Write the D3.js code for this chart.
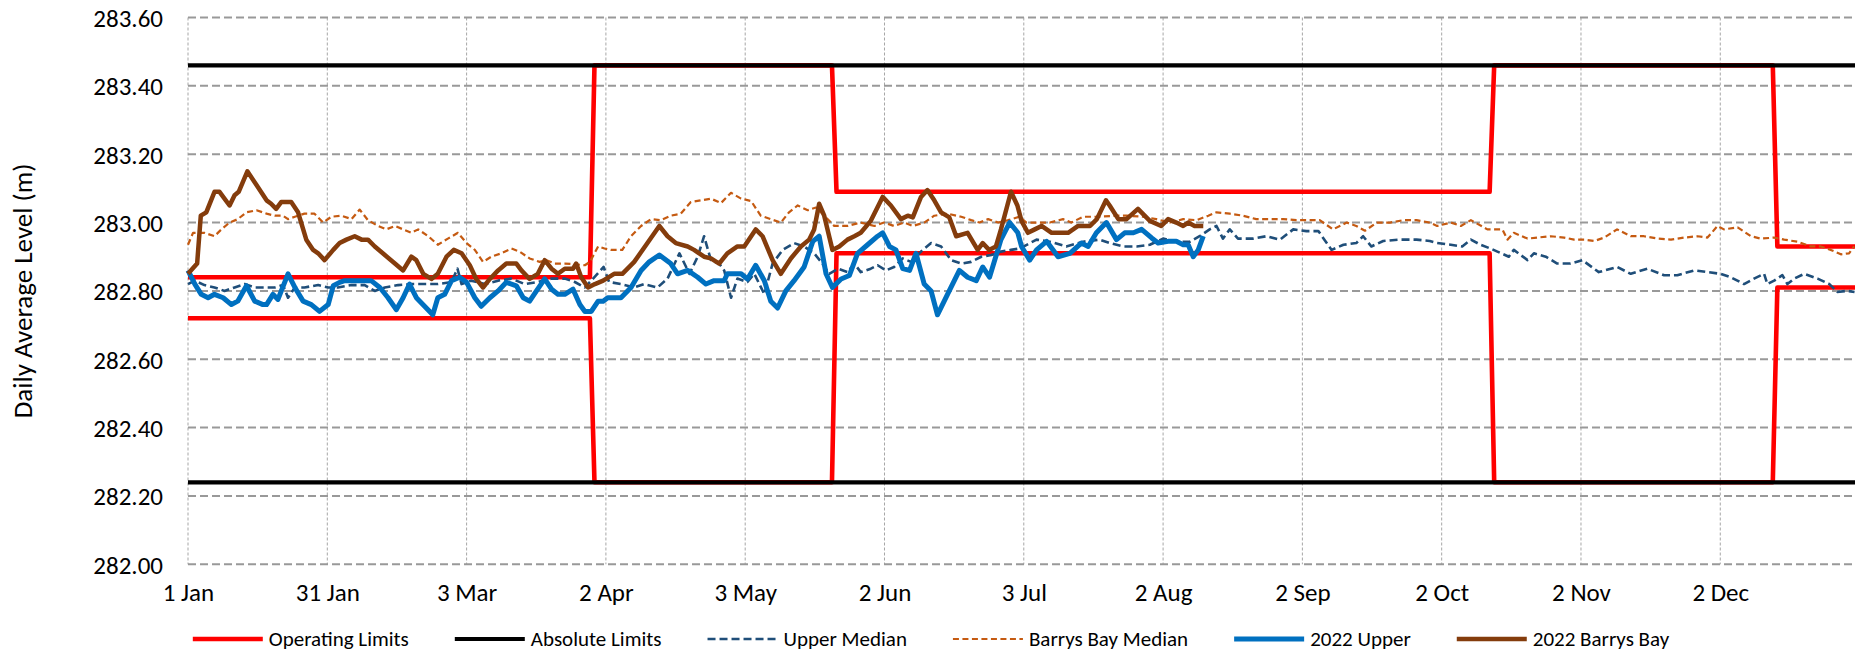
<!DOCTYPE html>
<html>
<head>
<meta charset="utf-8">
<script src="https://cdn.jsdelivr.net/npm/d3@7"></script>
<style>
  html, body { margin: 0; padding: 0; background: #fff; }
  svg { display: block; font-family: Calibri, Carlito, Lato, sans-serif; }
</style>
</head>
<body>
<svg id="chart" width="1862" height="653"></svg>
<script>
// x is day of year (0 = 1 Jan), y is level in metres
const xTickDays = [0, 30.5, 61, 91.5, 122, 152.5, 183, 213.5, 244, 274.5, 305, 335.5];
const xTickLabels = ["1 Jan", "31 Jan", "3 Mar", "2 Apr", "3 May", "2 Jun", "3 Jul", "2 Aug", "2 Sep", "2 Oct", "2 Nov", "2 Dec"];
const yTicks = [282.0, 282.2, 282.4, 282.6, 282.8, 283.0, 283.2, 283.4, 283.6];

const operatingUpper = [[0, 282.84], [88, 282.84], [89, 283.46], [141, 283.46], [142, 283.09], [285, 283.09], [286, 283.46], [347, 283.46], [348, 282.93], [365, 282.93]];
const operatingLower = [[0, 282.72], [88, 282.72], [89, 282.24], [141, 282.24], [142, 282.91], [285, 282.91], [286, 282.24], [347, 282.24], [348, 282.81], [365, 282.81]];
const absoluteUpper = [[0, 283.46], [365, 283.46]];
const absoluteLower = [[0, 282.24], [365, 282.24]];

const upperMedian = [
  [0, 282.82], [1.5, 282.83], [3.6, 282.817], [5.8, 282.81], [8, 282.80], [10.2, 282.81], [12.4, 282.82], [14.6, 282.81],
  [16.8, 282.81], [19, 282.81], [20.8, 282.817], [21.9, 282.78], [23.4, 282.81], [25.5, 282.81], [28.5, 282.817], [30.7, 282.81],
  [32.8, 282.81], [35.8, 282.817], [38.7, 282.817], [40.9, 282.80], [43.1, 282.81], [46, 282.817], [48.9, 282.82], [51.8, 282.82],
  [54.7, 282.82], [57.7, 282.826], [59, 282.865], [59.9, 282.82], [62, 282.83], [65, 282.82], [67.9, 282.83], [70.8, 282.836],
  [73.7, 282.82], [76.6, 282.826], [79.6, 282.836], [82.5, 282.836], [84.7, 282.826], [86.9, 282.81], [88.7, 282.836], [91, 282.87],
  [92.2, 282.826], [94.8, 282.82], [97.7, 282.81], [99.9, 282.82], [102.8, 282.81], [105, 282.836], [107.6, 282.91], [109.8, 282.85],
  [111.6, 282.90], [113, 282.96], [114.5, 282.89], [116.3, 282.88], [117.4, 282.86], [118.9, 282.78], [120.3, 282.836], [122.5, 282.826],
  [124, 282.85], [126.2, 282.79], [128, 282.88], [130.2, 282.92], [132.7, 282.94], [134.9, 282.93], [137.1, 282.91], [138.6, 282.885],
  [140.4, 282.85], [142.3, 282.865], [144.4, 282.855], [145.9, 282.88], [147.3, 282.855], [149.5, 282.865], [151, 282.875], [152.8, 282.86],
  [154.6, 282.87], [156.5, 282.895], [158.3, 282.885], [160.5, 282.915], [162.7, 282.94], [164.9, 282.93], [167.1, 282.89], [169.3, 282.88],
  [171.5, 282.885], [173.7, 282.90], [175.9, 282.905], [178, 282.915], [180.2, 282.92], [182.1, 282.924], [185.8, 282.95], [188.7, 282.944],
  [192.3, 282.93], [196, 282.944], [199.6, 282.95], [201.8, 282.94], [204.8, 282.93], [207.7, 282.93], [210.6, 282.935], [213.5, 282.953],
  [216.4, 282.944], [219.4, 282.944], [221.5, 282.96], [223.7, 282.98], [225.2, 282.99], [226.6, 282.953], [228.1, 282.98], [229.9, 282.953],
  [233.2, 282.953], [236.1, 282.96], [239.1, 282.95], [242, 282.98], [244.9, 282.975], [247.5, 282.975], [250.4, 282.92], [253, 282.935],
  [255.8, 282.94], [257.3, 282.96], [259.1, 282.93], [261.7, 282.946], [265.3, 282.95], [269, 282.95], [271.9, 282.946], [273.5, 282.94],
  [276.5, 282.935], [279, 282.93], [280.9, 282.95], [283, 282.935], [285.2, 282.924], [286.7, 282.915], [289.2, 282.90], [290.3, 282.92],
  [293.3, 282.89], [294.7, 282.91], [297.3, 282.90], [299.8, 282.88], [302.7, 282.88], [305.3, 282.89], [308.9, 282.855], [312.9, 282.87],
  [315.9, 282.85], [319.5, 282.865], [323.2, 282.846], [326.1, 282.846], [329.8, 282.86], [332.7, 282.855], [335.6, 282.85], [337.8, 282.84],
  [340.7, 282.82], [342.9, 282.836], [345.1, 282.85], [345.8, 282.82], [347.3, 282.83], [349.1, 282.846], [350.2, 282.82], [351.7, 282.836],
  [353.9, 282.85], [356.8, 282.836], [359.4, 282.82], [361.1, 282.797], [363.3, 282.80], [364.9, 282.797]
];

const barrysMedian = [
  [0, 282.935], [1.1, 282.97], [2.6, 282.97], [3.6, 282.97], [5.8, 282.96], [7.3, 282.98], [9.1, 283.00], [10.9, 283.01],
  [12.8, 283.03], [15, 283.036], [17.2, 283.026], [19, 283.02], [20.8, 283.02], [21.9, 283.01], [23.4, 283.017], [25.5, 283.026],
  [27.7, 283.026], [29.6, 283.00], [31.4, 283.017], [33.6, 283.02], [35.8, 283.01], [37.6, 283.038], [39.4, 283.007], [41.6, 282.99],
  [43.4, 282.98], [45.3, 282.99], [47.1, 282.98], [48.9, 282.97], [50.4, 282.98], [52.6, 282.96], [54.7, 282.935], [56.9, 282.953],
  [59.1, 282.97], [61, 282.94], [62.8, 282.92], [64.6, 282.885], [66.4, 282.90], [68.6, 282.91], [70.8, 282.924], [72.6, 282.915],
  [74.8, 282.895], [77, 282.885], [78.5, 282.89], [80.3, 282.88], [82.5, 282.88], [84.7, 282.878], [86.9, 282.875], [88, 282.885],
  [89.8, 282.93], [91.2, 282.924], [92.6, 282.92], [95.1, 282.92], [97, 282.96], [99.2, 282.99], [101.4, 283.01], [103.5, 283.007],
  [105.7, 283.02], [107.9, 283.026], [110.1, 283.06], [112.3, 283.065], [114.5, 283.07], [116.7, 283.057], [118.9, 283.087], [121.1, 283.07],
  [123.3, 283.063], [125.4, 283.02], [127.6, 283.01], [129.8, 283.00], [131.6, 283.03], [133.5, 283.05], [135.7, 283.036], [137.5, 283.044],
  [139.3, 283.02], [141.5, 282.99], [144.4, 282.99], [147.3, 283.00], [150.3, 282.99], [152.4, 283.00], [154.6, 282.99], [156.8, 283.00],
  [158.7, 282.99], [161.2, 283.00], [163.4, 283.02], [166.3, 283.026], [169.3, 283.017], [171.5, 283.007], [173.3, 283.00], [175.2, 283.01],
  [177.4, 283.00], [179.6, 283.007], [182, 283.017], [183.6, 283.00], [185.8, 283.00], [188.7, 283.00], [191.6, 283.01], [193.4, 283.00],
  [196, 283.017], [199, 283.017], [203.3, 283.02], [205.6, 283.02], [209.1, 283.017], [212, 283.01], [215, 283.00], [217.9, 283.01],
  [220.8, 283.007], [223.4, 283.02], [225.2, 283.03], [228.1, 283.026], [231, 283.02], [233.9, 283.01], [236.9, 283.01], [239.8, 283.01],
  [242.7, 283.007], [245.6, 283.007], [247.8, 283.007], [250.7, 282.98], [253.7, 283.00], [255.8, 282.99], [257.7, 282.976], [260.3, 283.00],
  [263.2, 283.00], [266.1, 283.007], [269, 283.007], [271.9, 283.00], [273.5, 282.99], [276.5, 283.00], [278.7, 282.99], [280.9, 283.007],
  [284.5, 282.98], [287.8, 282.98], [288.9, 282.95], [290.3, 282.97], [293.3, 282.953], [295.4, 282.956], [298.4, 282.96], [301.3, 282.956],
  [303.5, 282.95], [305.7, 282.95], [307.9, 282.946], [310.1, 282.956], [312.9, 282.98], [315.9, 282.96], [318.8, 282.96], [321.8, 282.953],
  [324.7, 282.95], [327.6, 282.956], [330.5, 282.96], [332.7, 282.956], [334.9, 282.99], [336.3, 282.98], [339.3, 282.986], [342.2, 282.96],
  [344.4, 282.953], [347.3, 282.956], [349.5, 282.95], [352.4, 282.944], [355.3, 282.93], [357.5, 282.93], [359.7, 282.92], [361.9, 282.907],
  [363.7, 282.91], [364.8, 282.93]
];

const upper2022 = [
  [0, 282.86], [1.5, 282.82], [2.9, 282.79], [4.4, 282.78], [5.8, 282.79], [7.7, 282.78], [9.5, 282.76], [10.9, 282.77],
  [12.8, 282.815], [14.6, 282.77], [16.4, 282.76], [17.2, 282.76], [18.6, 282.79], [19.7, 282.775], [21.9, 282.85], [23.4, 282.81],
  [25.2, 282.77], [27, 282.76], [28.8, 282.74], [30.7, 282.76], [31.8, 282.815], [33.2, 282.825], [34.3, 282.83], [38.7, 282.83],
  [40.1, 282.83], [42, 282.81], [43.8, 282.78], [45.6, 282.745], [47.1, 282.78], [48.5, 282.82], [50, 282.78], [51.8, 282.755],
  [53.6, 282.73], [54.7, 282.78], [56.2, 282.79], [57.7, 282.83], [59.5, 282.84], [61, 282.825], [62.8, 282.78], [64.2, 282.755],
  [66.1, 282.78], [67.9, 282.80], [69.7, 282.825], [71.9, 282.815], [73.4, 282.78], [74.8, 282.77], [76.3, 282.80], [78.1, 282.835],
  [79.6, 282.805], [81, 282.79], [82.5, 282.79], [84.3, 282.805], [85.8, 282.76], [86.9, 282.74], [88.3, 282.74], [89.8, 282.77],
  [90.9, 282.77], [91.9, 282.78], [94.8, 282.78], [97, 282.81], [99.2, 282.86], [101, 282.885], [103.2, 282.905], [105.7, 282.88],
  [107.2, 282.85], [109.4, 282.86], [111.6, 282.84], [113.4, 282.82], [115.2, 282.83], [117.4, 282.83], [118.1, 282.85], [121.1, 282.85],
  [122.5, 282.835], [124.3, 282.875], [126.2, 282.83], [127.6, 282.77], [129.1, 282.75], [130.9, 282.80], [132.7, 282.83], [134.9, 282.87],
  [136.8, 282.945], [138.2, 282.96], [139.7, 282.85], [141.1, 282.81], [143, 282.835], [144.8, 282.845], [146.6, 282.91], [148.8, 282.935],
  [151, 282.96], [152.1, 282.97], [153.6, 282.93], [155, 282.92], [156.5, 282.865], [158, 282.86], [159.4, 282.91], [161.2, 282.82],
  [162.7, 282.80], [164.1, 282.73], [166.3, 282.79], [168.9, 282.86], [170.7, 282.84], [172.6, 282.83], [174, 282.87], [175.5, 282.84],
  [178, 282.95], [179.9, 283.00], [181.7, 282.97], [182.5, 282.93], [184.3, 282.89], [185.8, 282.92], [188, 282.945], [190.5, 282.90],
  [193.1, 282.91], [195.6, 282.94], [197.1, 282.93], [198.9, 282.97], [201.1, 283.00], [203.3, 282.95], [205.1, 282.97], [207, 282.97],
  [208.8, 282.98], [211, 282.955], [212.4, 282.94], [214.6, 282.945], [216.4, 282.945], [217.9, 282.935], [219, 282.935], [220.1, 282.90],
  [221.2, 282.92], [222.3, 282.96]
];

const barrys2022 = [
  [0, 282.85], [2, 282.88], [2.8, 283.02], [4, 283.03], [5.8, 283.09], [6.9, 283.09], [9.1, 283.05], [10.2, 283.08],
  [11.1, 283.09], [13, 283.15], [15, 283.11], [17.2, 283.065], [18.2, 283.055], [19.3, 283.04], [20.4, 283.06], [22.6, 283.06],
  [24.1, 283.03], [25.9, 282.95], [27.4, 282.92], [28.5, 282.91], [29.9, 282.89], [31.8, 282.92], [33.2, 282.94], [34.7, 282.95],
  [36.5, 282.96], [38, 282.95], [39.4, 282.95], [40.9, 282.93], [43.1, 282.905], [45.3, 282.88], [47.1, 282.86], [48.9, 282.90],
  [50, 282.89], [51.5, 282.85], [53.3, 282.835], [54.7, 282.85], [56.6, 282.90], [58.2, 282.92], [59.9, 282.91], [61.7, 282.875],
  [63.1, 282.835], [64.6, 282.81], [66.1, 282.835], [67.9, 282.86], [69.7, 282.88], [71.9, 282.88], [73, 282.86], [74.8, 282.835],
  [76.6, 282.85], [78.1, 282.89], [79.6, 282.865], [81, 282.85], [82.5, 282.865], [84.3, 282.865], [85, 282.88], [86.1, 282.84],
  [87.6, 282.81], [89.1, 282.82], [90.9, 282.83], [93.3, 282.85], [95.1, 282.85], [97.7, 282.885], [100.6, 282.94], [103.2, 282.99],
  [105, 282.96], [106.8, 282.94], [109.4, 282.93], [110.8, 282.92], [113, 282.90], [114.5, 282.895], [116.3, 282.88], [118.1, 282.91],
  [120.3, 282.93], [121.8, 282.93], [124.3, 282.98], [125.8, 282.96], [128, 282.89], [129.8, 282.85], [132, 282.895], [134.2, 282.93],
  [136, 282.95], [137.1, 282.98], [138.2, 283.055], [139.3, 283.02], [141.1, 282.92], [142.6, 282.93], [144.4, 282.95], [145.9, 282.96],
  [147.3, 282.97], [149.5, 283.005], [152.1, 283.075], [153.9, 283.05], [156.1, 283.01], [157.6, 283.02], [158.7, 283.015], [160.5, 283.075],
  [161.9, 283.095], [163.4, 283.065], [164.9, 283.03], [166.7, 283.015], [168.2, 282.96], [170.7, 282.97], [172.9, 282.92], [174, 282.94],
  [175.4, 282.92], [176.9, 282.93], [178, 282.98], [180.2, 283.09], [181.6, 283.05], [182.5, 283.005], [183.9, 282.97], [185.4, 282.98],
  [186.9, 282.99], [189.1, 282.97], [192.7, 282.97], [194.9, 282.99], [197.5, 282.99], [199, 283.01], [201, 283.065], [201.8, 283.05],
  [203.7, 283.01], [205.5, 283.01], [208, 283.04], [210.6, 283.005], [213.1, 282.99], [214.6, 283.01], [216.4, 283.00], [217.9, 282.99],
  [219, 283.00], [220.4, 282.99], [222.3, 282.99]
];

const margin = { left: 188, right: 7, top: 17.5, bottom: 88.7 };
const W = 1862, H = 653;
const svg = d3.select("#chart");

const x = d3.scaleLinear().domain([0, 365]).range([margin.left, W - margin.right]);
const y = d3.scaleLinear().domain([282, 283.6]).range([H - margin.bottom, margin.top]);

// grid
svg.append("g").selectAll("line").data(xTickDays).join("line")
  .attr("x1", (d) => x(d)).attr("x2", (d) => x(d))
  .attr("y1", y(283.6)).attr("y2", y(282))
  .attr("stroke", "#a6a6a6").attr("stroke-width", 1).attr("stroke-dasharray", "3,2");
svg.append("g").selectAll("line").data(yTicks).join("line")
  .attr("x1", x(0)).attr("x2", x(365))
  .attr("y1", (d) => y(d)).attr("y2", (d) => y(d))
  .attr("stroke", "#999").attr("stroke-width", 2).attr("stroke-dasharray", "8,4");

// axes (labels only)
const yAxis = svg.append("g").attr("transform", `translate(${margin.left - 25},0)`)
  .call(d3.axisLeft(y).tickValues(yTicks).tickFormat(d3.format(".2f")).tickSize(0).tickPadding(0));
const xAxis = svg.append("g").attr("transform", `translate(0,${y(282) + 19})`)
  .call(d3.axisBottom(x).tickValues(xTickDays).tickFormat((d, i) => xTickLabels[i]).tickSize(0).tickPadding(0));
[yAxis, xAxis].forEach((a) => {
  a.select(".domain").remove();
  a.selectAll("text").attr("font-family", "Calibri, Carlito, Lato, sans-serif").attr("font-size", 25).attr("fill", "#000");
});
yAxis.selectAll("text").attr("dy", "0.36em");
xAxis.selectAll("text").attr("dy", "0.72em");

svg.append("text")
  .attr("transform", `translate(22,${(y(282) + y(283.6)) / 2}) rotate(-90)`)
  .attr("text-anchor", "middle").attr("dominant-baseline", "central")
  .attr("font-size", 27).attr("fill", "#000")
  .text("Daily Average Level (m)");

// series
const line = d3.line().x((d) => x(d[0])).y((d) => y(d[1]));
const styles = {
  operating: { stroke: "#ff0000", width: 4.6, dash: null },
  absolute: { stroke: "#000000", width: 4.2, dash: null },
  upperMed: { stroke: "#1f4e79", width: 2.6, dash: "8,4" },
  barrysMed: { stroke: "#c55a11", width: 2.2, dash: "6,3.5" },
  upper22: { stroke: "#0070c0", width: 5, dash: null },
  barrys22: { stroke: "#843c0c", width: 4.5, dash: null },
};
const drawn = [
  [operatingUpper, "operating"], [operatingLower, "operating"],
  [absoluteUpper, "absolute"], [absoluteLower, "absolute"],
  [upperMedian, "upperMed"], [barrysMedian, "barrysMed"],
  [upper2022, "upper22"], [barrys2022, "barrys22"],
];
drawn.forEach(([data, key]) => {
  const s = styles[key];
  svg.append("path").datum(data).attr("d", line)
    .attr("fill", "none").attr("stroke", s.stroke).attr("stroke-width", s.width)
    .attr("stroke-linejoin", "round").attr("stroke-dasharray", s.dash);
});

// legend, centred on the whole picture
const legendItems = [
  ["Operating Limits", "operating"], ["Absolute Limits", "absolute"], ["Upper Median", "upperMed"],
  ["Barrys Bay Median", "barrysMed"], ["2022 Upper", "upper22"], ["2022 Barrys Bay", "barrys22"],
];
const legend = svg.append("g");
const ly = 639;
let cursor = 0;
legendItems.forEach(([label, key]) => {
  const s = styles[key];
  const g = legend.append("g").attr("transform", `translate(${cursor},0)`);
  g.append("line").attr("x1", 0).attr("x2", 70).attr("y1", ly).attr("y2", ly)
    .attr("stroke", s.stroke).attr("stroke-width", s.width).attr("stroke-dasharray", s.dash);
  const t = g.append("text").attr("x", 76).attr("y", ly).attr("dy", "0.35em")
    .attr("font-size", 21).attr("fill", "#000").text(label);
  cursor += 76 + t.node().getComputedTextLength() + 46;
});
const legendWidth = cursor - 46;
legend.attr("transform", `translate(${W / 2 - legendWidth / 2},0)`);
</script>
</body>
</html>
